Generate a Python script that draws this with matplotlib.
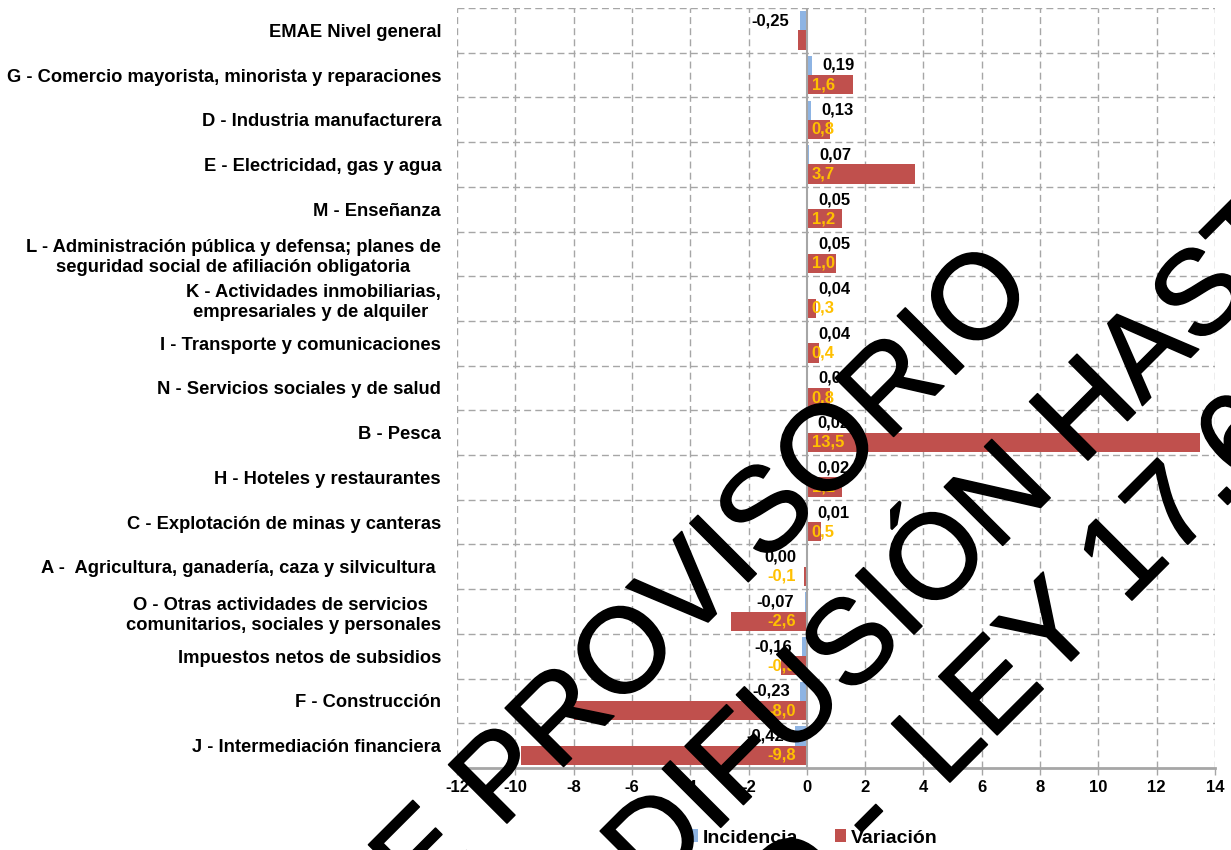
import matplotlib
matplotlib.use("Agg")
import matplotlib.pyplot as plt
import matplotlib.patheffects as pe
from matplotlib.patches import Patch
import numpy as np

plt.rcParams["font.family"] = ["Liberation Sans", "DejaVu Sans"]

categories = [
    "EMAE Nivel general",
    "G - Comercio mayorista, minorista y reparaciones",
    "D - Industria manufacturera",
    "E - Electricidad, gas y agua",
    "M - Enseñanza",
    "L - Administración pública y defensa; planes de\nseguridad social de afiliación obligatoria",
    "K - Actividades inmobiliarias,\nempresariales y de alquiler ",
    "I - Transporte y comunicaciones",
    "N - Servicios sociales y de salud",
    "B - Pesca",
    "H - Hoteles y restaurantes",
    "C - Explotación de minas y canteras",
    "A -  Agricultura, ganadería, caza y silvicultura ",
    "O - Otras actividades de servicios \ncomunitarios, sociales y personales",
    "Impuestos netos de subsidios",
    "F - Construcción",
    "J - Intermediación financiera",
]
incidencia = [-0.25, 0.19, 0.13, 0.07, 0.05, 0.05, 0.04, 0.04, 0.03, 0.02,
              0.02, 0.01, -0.004, -0.07, -0.16, -0.23, -0.42]
variacion = [-0.3, 1.6, 0.8, 3.7, 1.2, 1.0, 0.3, 0.4, 0.8, 13.5,
             1.2, 0.5, -0.1, -2.6, -0.9, -8.0, -9.8]
# the general-level variation carries no label in the original
variacion_label = [False] + [True] * 16
x_ticks = list(range(-12, 15, 2))
legend_names = ["Incidencia", "Variación"]
wm_before = ["INFORME", "PROHIBIDA SU DIFUSIÓN", "SECRETO ESTADÍSTICO -"]
wm_after = ["PROVISORIO", "HASTA SU PUBLICACIÓN", "LEY 17.622"]

# pixel anchors (start of the second part of each watermark line) and gap before it
WM_ANCHOR = [(500, 830), (1081, 467), (943, 789)]
WM_GAP = [33, 33, 52]

BLUE = "#8EB4E3"
RED = "#C0504D"
ORANGE = "#FFC000"
GRID = "#A6A6A6"
W, H = 1231, 850


def fmt(v, nd):
    s = f"{v:.{nd}f}"
    if float(s) == 0:
        s = f"{abs(v):.{nd}f}"
    return s.replace(".", ",")


fig = plt.figure(figsize=(W / 100, H / 100), dpi=100)
ax = fig.add_axes([457 / W, 1 - 768 / H, (1215 - 457) / W, (768 - 8) / H])

y = np.arange(len(categories))
bh = 0.43
ax.barh(y - bh / 2, incidencia, height=bh, color=BLUE, zorder=3)
ax.barh(y + bh / 2, variacion, height=bh, color=RED, zorder=3)

for i, v in enumerate(incidencia):
    off = 7.5 if v > 0 else -7.5
    ax.annotate(fmt(v, 2), (v, i - bh / 2), xytext=(off, 0), textcoords="offset points",
                ha="left" if v > 0 else "right", va="center", fontsize=12,
                fontweight="bold", color="black", zorder=5)
for i, v in enumerate(variacion):
    if not variacion_label[i]:
        continue
    off = 3.5 if v > 0 else -8
    ax.annotate(fmt(v, 1), (0, i + bh / 2), xytext=(off, 0), textcoords="offset points",
                ha="left" if v > 0 else "right", va="center", fontsize=12,
                fontweight="bold", color=ORANGE, zorder=5)

ax.set_xlim(-12, 14)
ax.set_ylim(len(categories) - 0.5, -0.5)

ax.set_xticks(x_ticks)
ax.set_xticklabels([str(t) for t in x_ticks], fontsize=12, fontweight="bold")
ax.grid(axis="x", linestyle=(0, (5, 3)), color=GRID, lw=1, zorder=0)
for b in np.arange(-0.5, len(categories) - 0.5):
    ax.axhline(b, linestyle=(0, (5, 3)), color=GRID, lw=1, zorder=0)
ax.axvline(0, color=GRID, lw=1.5, zorder=4)
ax.xaxis.get_gridlines()[6].set_visible(False)

ax.set_yticks(y)
ax.set_yticklabels(categories, fontsize=13.2, fontweight="bold")
for t in ax.get_yticklabels():
    t.set_multialignment("center")
    t.set_linespacing(1.25)
ax.tick_params(axis="y", length=0, pad=11.5)
ax.tick_params(axis="x", direction="out", length=5, width=1, color=GRID, pad=4)

for s in ["left", "right", "top"]:
    ax.spines[s].set_visible(False)
ax.spines["bottom"].set_color(GRID)
ax.spines["bottom"].set_linewidth(2)

handles = [Patch(facecolor=BLUE), Patch(facecolor=RED)]
fig.legend(handles, legend_names, loc="center", bbox_to_anchor=(812 / W, 1 - 838 / H),
           ncol=2, frameon=False, prop={"size": 14, "weight": "bold"},
           handlelength=0.6, handleheight=0.6, handletextpad=0.25, columnspacing=1.9)

# diagonal watermark over the chart
size_pt = 120 * 0.72
thick = [pe.withStroke(linewidth=1.2, foreground="black")]
for left, right, (px, py), gap in zip(wm_before, wm_after, WM_ANCHOR, WM_GAP):
    fig.text(px / W, 1 - py / H, right, rotation=45, rotation_mode="anchor",
             ha="left", va="baseline", fontsize=size_pt, color="black", zorder=10,
             path_effects=thick)
    d = gap / np.sqrt(2)
    fig.text((px - d) / W, 1 - (py + d) / H, left, rotation=45, rotation_mode="anchor",
             ha="right", va="baseline", fontsize=size_pt, color="black", zorder=10,
             path_effects=thick)

fig.savefig("out.png", dpi=100)
